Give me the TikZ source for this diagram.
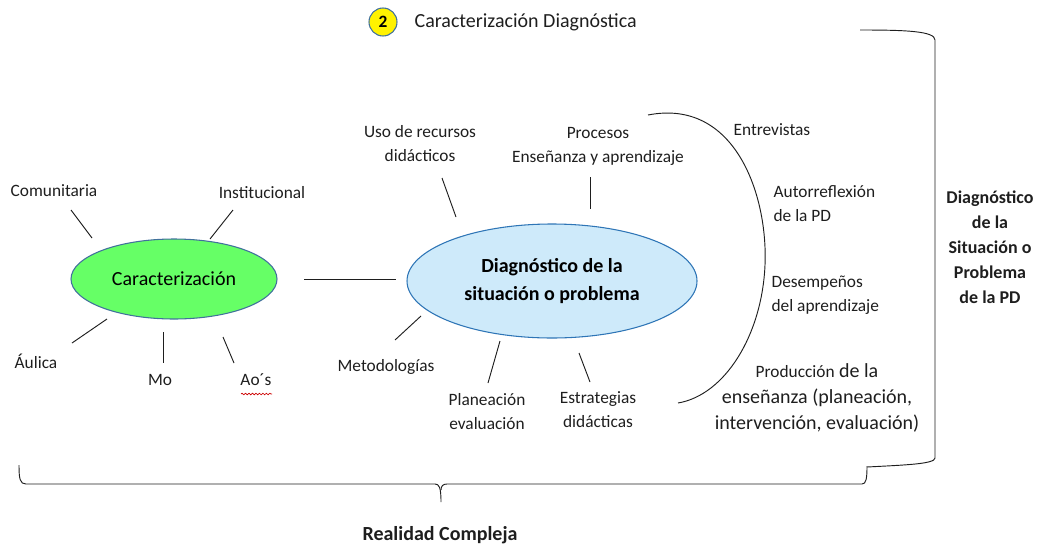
\documentclass[tikz,border=0pt]{standalone}
\usepackage{fontspec}
\setmainfont{Carlito}
\usetikzlibrary{positioning,shapes.geometric,decorations.pathmorphing}

\definecolor{carfill}{RGB}{102,255,102}
\definecolor{diagfill}{RGB}{206,234,250}
\definecolor{rimblue}{RGB}{65,113,156}
\definecolor{inkgray}{RGB}{30,30,30}

\tikzset{
  lbl/.style={font=\fontsize{13}{18}\selectfont, align=center, inner sep=1pt, text=inkgray},
  lbll/.style={lbl, align=left, anchor=west},
  spoke/.style={draw=inkgray, line width=0.7pt},
  bubble/.style={ellipse, draw=rimblue, line width=0.8pt, inner sep=0pt},
}

\begin{document}
\begin{tikzpicture}[x=0.75pt,y=0.75pt,yscale=-1,xscale=1]
\useasboundingbox (0,0) rectangle (1037,550);

% Title
\node (num) [circle, fill=yellow, draw=rimblue, line width=0.8pt, minimum size=21pt, inner sep=0pt,
  font=\fontsize{13}{14}\selectfont\bfseries] at (383,22) {2};
\node (title) [lbl, anchor=west, font=\fontsize{15}{16}\selectfont] at (413,22) {Caracterización Diagnóstica};

% Ellipses
\node (carac) [bubble, fill=carfill, minimum width=154.5pt, minimum height=60pt,
  font=\fontsize{15}{16}\selectfont] at (174,279) {Caracterización};
\node (diag) [bubble, fill=diagfill, draw={rgb,255:red,46;green,117;blue,182}, minimum width=217.5pt, minimum height=85.5pt,
  align=center, font=\fontsize{15}{21}\selectfont\bfseries] at (552,281) {Diagnóstico de la\\situación o problema};

% Text Node
\node (comun) [lbl] at (54,191) {Comunitaria};
\node (insti) [lbl] at (262,193) {Institucional};
\node (aulica) [lbl] at (36,361) {Áulica};
\node (mo) [lbl] at (160,380) {Mo};
\node (aos) [lbl] at (256,380) {Ao´s};
\node (uso) [lbl] at (420,144) {Uso de recursos\\didácticos};
\node (proc) [lbl] at (598,146) {Procesos\\Enseñanza y aprendizaje};
\node (metod) [lbl] at (386,367) {Metodologías};
\node (plan) [lbl] at (487,412) {Planeación\\evaluación};
\node (estr) [lbl] at (598,410) {Estrategias\\didácticas};

% Text Node
\node (entre) [lbll] at (732,130) {Entrevistas};
\node (autor) [lbll] at (772,204) {Autorreflexión\\de la PD};
\node (desem) [lbll] at (770,295) {Desempeños\\del aprendizaje};
\node (produ) [lbl, font=\fontsize{15}{19.5}\selectfont] at (817,398)
  {{\fontsize{13}{14}\selectfont Producción} de la\\enseñanza (planeación,\\intervención, evaluación)};
\node (sitpd) [lbl, font=\fontsize{13.5}{18.8}\selectfont\bfseries] at (990,247)
  {Diagnóstico\\de la\\Situación o\\Problema\\de la PD};
\node (real) [lbl, font=\fontsize{15}{16}\selectfont\bfseries] at (440,535) {Realidad Compleja};

% Spoke ends
\coordinate (c1) at (71,210);  \coordinate (c2) at (92,238);
\coordinate (i1) at (233,210); \coordinate (i2) at (210,239);
\coordinate (a1) at (107,319); \coordinate (a2) at (72,343);
\coordinate (m1) at (163,332); \coordinate (m2) at (163,363);
\coordinate (o1) at (223,337); \coordinate (o2) at (234,363);
\coordinate (u1) at (442,178); \coordinate (u2) at (456,217);
\coordinate (p1) at (590,177); \coordinate (p2) at (590,209);
\coordinate (t1) at (421,316); \coordinate (t2) at (395,340);
\coordinate (e1) at (500,341); \coordinate (e2) at (488,383);
\coordinate (s1) at (579,353); \coordinate (s2) at (590,382);
\coordinate (k1) at (304,279); \coordinate (k2) at (396,279);

%Straight Lines
\draw[spoke] (c1) -- (c2);
\draw[spoke] (i1) -- (i2);
\draw[spoke] (a1) -- (a2);
\draw[spoke] (m1) -- (m2);
\draw[spoke] (o1) -- (o2);
\draw[spoke] (u1) -- (u2);
\draw[spoke] (p1) -- (p2);
\draw[spoke] (t1) -- (t2);
\draw[spoke] (e1) -- (e2);
\draw[spoke] (s1) -- (s2);
\draw[spoke] (k1) -- (k2);

% Wavy underline
\draw[red!80!black, line width=0.5pt, decorate, decoration={snake, amplitude=0.6pt, segment length=2.6pt}]
  (241,394) -- (272,394);

% Arc
\draw[spoke] (648,115) .. controls (735,98) and (768,195) .. (765,265)
  .. controls (762,335) and (725,395) .. (678,403);

% Right bracket
\draw[spoke] (860,30) .. controls (905,30) and (935,31) .. (935,40) -- (935,458)
  .. controls (935,464) and (905,465) .. (867,467);

% Bottom brace
\draw[spoke] (19,465) .. controls (19,479) and (20,484) .. (26,484) -- (435,484)
  .. controls (439,484) and (441,487) .. (441,502);
\draw[spoke] (441,490) .. controls (441,486) and (443,484) .. (447,484) -- (862,484)
  .. controls (866,484) and (867,479) .. (867,466);
\end{tikzpicture}
\end{document}
